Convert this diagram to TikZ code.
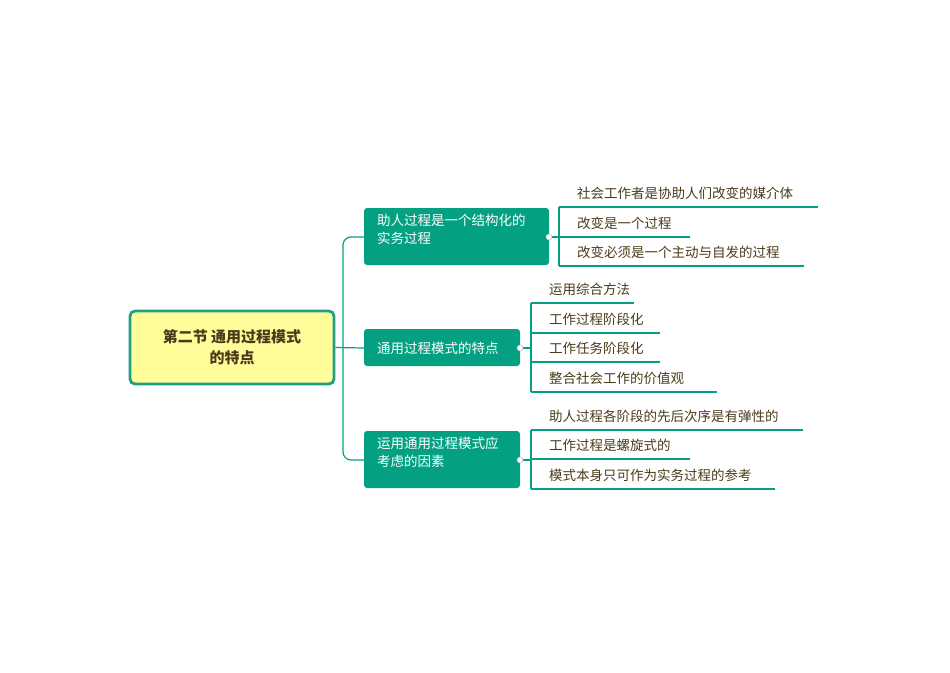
\documentclass[tikz,border=0pt]{standalone}
\usepackage{fontspec}
\setmainfont{Noto Sans CJK SC}
\begin{document}
\begin{tikzpicture}[x=1pt,y=-1pt,
  teal/.style={draw=none,fill={rgb,255:red,4;green,160;blue,130},rounded corners=3pt,text=white,font=\fontsize{13.5}{18}\selectfont,align=left,anchor=north west,inner sep=0pt},
  lk/.style={draw={rgb,255:red,4;green,160;blue,130},line width=1.2pt},
  leaf/.style={font=\fontsize{13.5}{16}\selectfont,text={rgb,255:red,74;green,58;blue,26},anchor=west,inner sep=0pt},
  dot/.style={circle,draw=gray!50,fill=white,minimum size=6pt,inner sep=0pt,line width=0.5pt}]
\useasboundingbox (0,0) rectangle (950,672);
\node[draw={rgb,255:red,30;green,160;blue,130},line width=2.8pt,fill={rgb,255:red,255;green,253;blue,153},rounded corners=5pt,minimum width=204pt,minimum height=73pt,align=center,font=\bfseries\fontsize{15}{21}\selectfont,text={rgb,255:red,74;green,58;blue,26}] (root) at (232,347.5) {第二节 通用过程模式\\的特点};
% branch boxes
\fill[fill={rgb,255:red,4;green,160;blue,130},rounded corners=3pt] (364,208) rectangle (549,265);
\node[teal,fill=none] (b1) at (377,214) {助人过程是一个结构化的\\实务过程};
\coordinate (b1w) at (364,237); \coordinate (b1e) at (549,237);
\fill[fill={rgb,255:red,4;green,160;blue,130},rounded corners=3pt] (364,329) rectangle (520,366);
\node[teal,fill=none,anchor=west] (b2) at (377,348) {通用过程模式的特点};
\coordinate (b2w) at (364,348); \coordinate (b2e) at (520,348);
\fill[fill={rgb,255:red,4;green,160;blue,130},rounded corners=3pt] (364,431) rectangle (520,488);
\node[teal,fill=none] (b3) at (377,437) {运用通用过程模式应\\考虑的因素};
\coordinate (b3w) at (364,460); \coordinate (b3e) at (520,460);
% trunk
\draw[lk] (root.east) -- (b2w);
\draw[lk,rounded corners=8pt] (b1w) -- (343,237) -- (343,460) -- (b3w);
% leaves B1
\coordinate (v1) at (559,237);
\draw[lk] (b1e) -- (v1);
\draw[lk] (559,207) -- (559,266);
\draw[lk] (559,207) -- (818,207); \node[leaf] (l11) at (577,193) {社会工作者是协助人们改变的媒介体};
\draw[lk] (559,237) -- (690,237); \node[leaf] (l12) at (577,223) {改变是一个过程};
\draw[lk] (559,266) -- (804,266); \node[leaf] (l13) at (577,252) {改变必须是一个主动与自发的过程};
\node[dot] at (b1e) {}; 
% leaves B2
\draw[lk] (b2e) -- (531,348);
\draw[lk] (531,303) -- (531,392);
\draw[lk] (531,303) -- (634,303); \node[leaf] (l21) at (549,289) {运用综合方法};
\draw[lk] (531,333) -- (660,333); \node[leaf] (l22) at (549,319) {工作过程阶段化};
\draw[lk] (531,362) -- (660,362); \node[leaf] (l23) at (549,348) {工作任务阶段化};
\draw[lk] (531,392) -- (717,392); \node[leaf] (l24) at (549,378) {整合社会工作的价值观};
\node[dot] at (b2e) {};
% leaves B3
\draw[lk] (b3e) -- (531,460);
\draw[lk] (531,430) -- (531,489);
\draw[lk] (531,430) -- (803,430); \node[leaf] (l31) at (549,416) {助人过程各阶段的先后次序是有弹性的};
\draw[lk] (531,459) -- (690,459); \node[leaf] (l32) at (549,445) {工作过程是螺旋式的};
\draw[lk] (531,489) -- (775,489); \node[leaf] (l33) at (549,475) {模式本身只可作为实务过程的参考};
\node[dot] at (b3e) {};
\end{tikzpicture}
\end{document}
